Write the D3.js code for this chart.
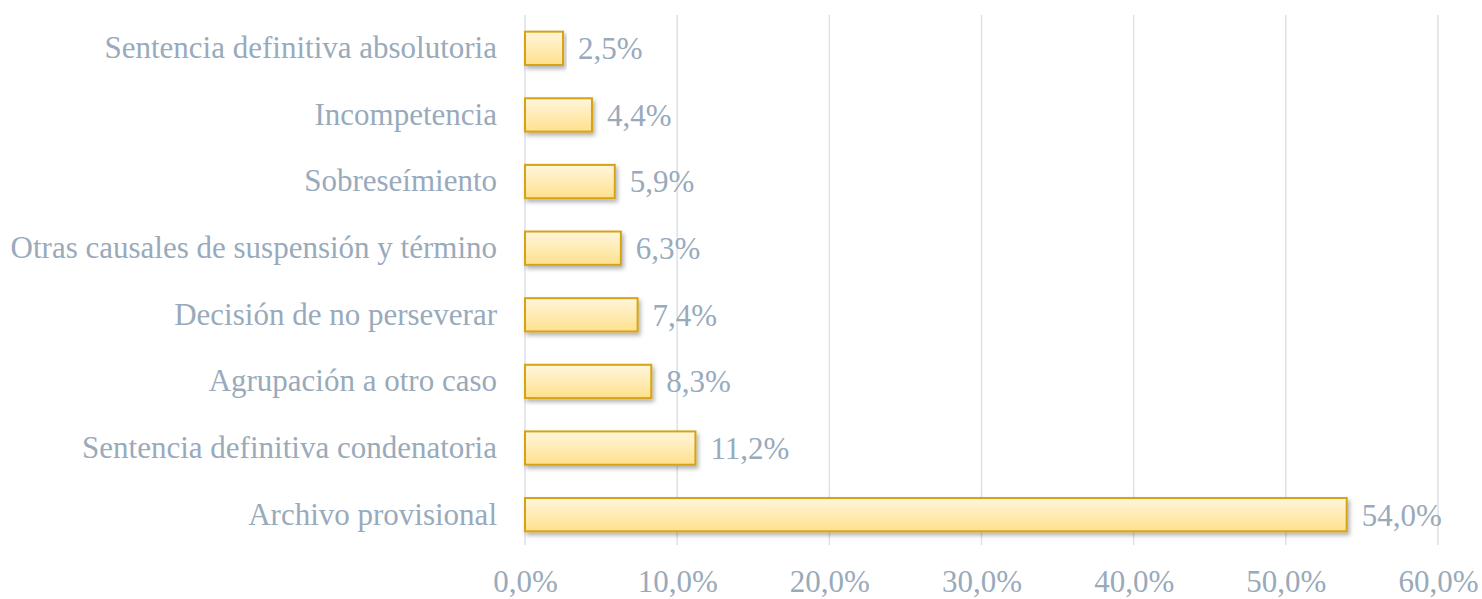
<!DOCTYPE html>
<html>
<head>
<meta charset="utf-8">
<script src="https://cdn.jsdelivr.net/npm/d3@7"></script>
<style>
  body { margin: 0; background: #fff; }
  text { font-family: "Liberation Serif", "DejaVu Serif", serif; fill: #98aabb; }
</style>
</head>
<body>
<svg id="chart" width="1482" height="599"></svg>
<script>
// categories top to bottom
var categories = [
  "Sentencia definitiva absolutoria",
  "Incompetencia",
  "Sobreseímiento",
  "Otras causales de suspensión y término",
  "Decisión de no perseverar",
  "Agrupación a otro caso",
  "Sentencia definitiva condenatoria",
  "Archivo provisional"
];
var values = [2.5, 4.4, 5.9, 6.3, 7.4, 8.3, 11.2, 54.0];
var ticks = [0, 10, 20, 30, 40, 50, 60];

var svg = d3.select("#chart");
var mLeft = 525, mRight = 1438, mTop = 15, mBottom = 548;

var x = d3.scaleLinear().domain([0, 60]).range([mLeft, mRight]);
var y = d3.scaleBand().domain(categories).range([mTop, mBottom])
    .paddingInner(0.5).paddingOuter(0.25);

var fmt = function (v) { return v.toFixed(1).replace(".", ",") + "%"; };

// gradient + shadow
var defs = svg.append("defs");
var grad = defs.append("linearGradient")
    .attr("id", "barGrad")
    .attr("x1", 0).attr("y1", 0).attr("x2", 0).attr("y2", 1);
grad.append("stop").attr("offset", "0%").attr("stop-color", "#fff6dc");
grad.append("stop").attr("offset", "100%").attr("stop-color", "#ffe08c");

var shadow = defs.append("filter").attr("id", "shadow")
    .attr("x", "-5%").attr("y", "-20%").attr("width", "115%").attr("height", "160%");
shadow.append("feDropShadow")
    .attr("dx", 2).attr("dy", 3).attr("stdDeviation", 2)
    .attr("flood-color", "#000").attr("flood-opacity", 0.3);

// gridlines
svg.append("g")
  .selectAll("line")
  .data(ticks)
  .join("line")
    .attr("x1", function (d) { return x(d); })
    .attr("x2", function (d) { return x(d); })
    .attr("y1", mTop)
    .attr("y2", mBottom - 3)
    .attr("stroke", "#dde2e8")
    .attr("stroke-width", 1.5);

// x axis labels
var xAxis = svg.append("g")
  .attr("transform", "translate(0," + mBottom + ")")
  .call(d3.axisBottom(x).tickValues(ticks).tickSize(0).tickPadding(22).tickFormat(fmt));
xAxis.select(".domain").remove();
xAxis.selectAll("text")
  .style("font-size", "31px")
  .style("font-family", "'Liberation Serif', serif")
  .attr("fill", "#98aabb");

// y axis labels
var yAxis = svg.append("g")
  .attr("transform", "translate(" + mLeft + ",0)")
  .call(d3.axisLeft(y).tickSize(0).tickPadding(28));
yAxis.select(".domain").remove();
yAxis.selectAll("text")
  .style("font-size", "31px")
  .style("font-family", "'Liberation Serif', serif")
  .attr("fill", "#98aabb");

// bars
svg.append("g")
  .selectAll("rect")
  .data(values)
  .join("rect")
    .attr("x", x(0))
    .attr("y", function (d, i) { return y(categories[i]); })
    .attr("width", function (d) { return x(d) - x(0); })
    .attr("height", y.bandwidth())
    .attr("fill", "url(#barGrad)")
    .attr("stroke", "#d6a312")
    .attr("stroke-width", 2)
    .attr("filter", "url(#shadow)");

// value labels
svg.append("g")
  .selectAll("text")
  .data(values)
  .join("text")
    .attr("x", function (d) { return x(d) + 15; })
    .attr("y", function (d, i) { return y(categories[i]) + y.bandwidth() / 2; })
    .attr("dy", "0.35em")
    .style("font-size", "31px")
    .text(fmt);
</script>
</body>
</html>
